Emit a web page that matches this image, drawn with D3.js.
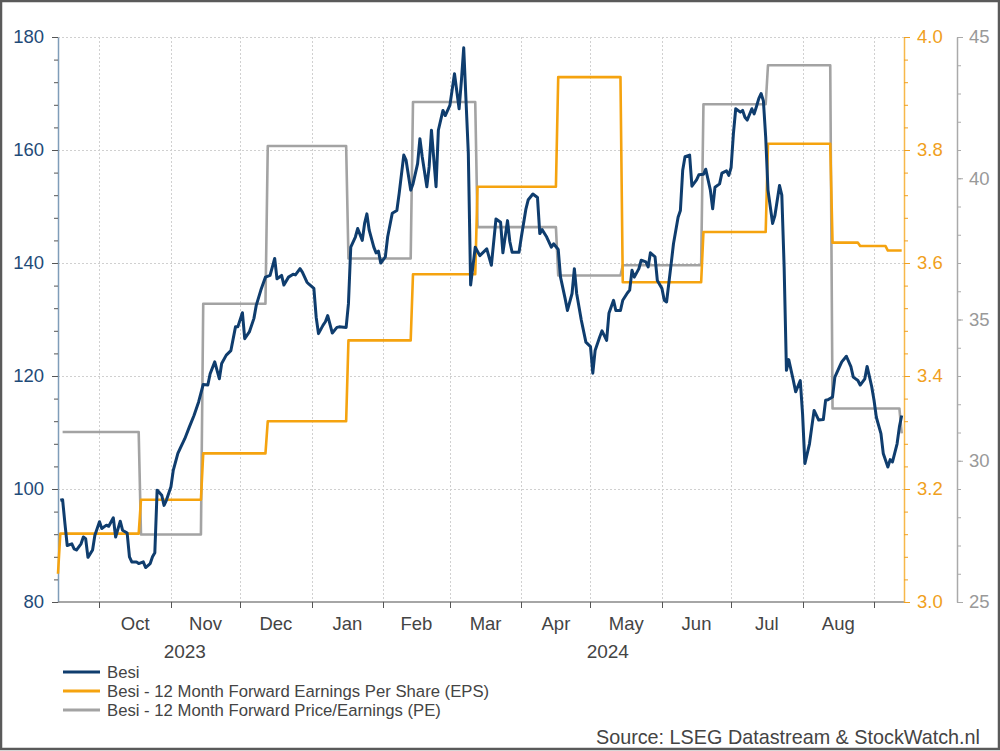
<!DOCTYPE html>
<html>
<head>
<meta charset="utf-8">
<script src="https://cdn.jsdelivr.net/npm/d3@7"></script>
<style>
  body { margin: 0; background: #fff; }
  svg { display: block; font-family: "Liberation Sans", Arial, sans-serif; }
</style>
</head>
<body>
<script>
const besiPrice = [
  ["2023-09-14",98.0],["2023-09-15",98.1],["2023-09-16",93.9],["2023-09-17",90.0],["2023-09-19",90.3],
  ["2023-09-20",89.4],["2023-09-21",89.2],["2023-09-23",90.3],["2023-09-24",91.5],["2023-09-25",91.2],
  ["2023-09-26",87.9],["2023-09-28",89.2],["2023-09-29",91.8],["2023-10-01",94.2],["2023-10-02",93.0],
  ["2023-10-04",93.6],["2023-10-05",93.4],["2023-10-07",94.9],["2023-10-08",91.5],["2023-10-10",94.3],
  ["2023-10-11",92.7],["2023-10-13",92.2],["2023-10-14",88.0],["2023-10-15",87.1],["2023-10-17",87.1],
  ["2023-10-18",86.8],["2023-10-20",87.1],["2023-10-21",86.1],["2023-10-23",86.8],["2023-10-24",88.0],
  ["2023-10-25",88.7],["2023-10-26",99.8],["2023-10-28",98.9],["2023-10-29",97.1],["2023-10-30",98.0],
  ["2023-11-01",100.4],["2023-11-02",103.3],["2023-11-04",106.3],["2023-11-05",107.2],["2023-11-07",108.9],
  ["2023-11-09",111.0],["2023-11-11",113.0],["2023-11-13",115.4],["2023-11-15",118.5],["2023-11-17",118.4],
  ["2023-11-18",120.4],["2023-11-20",122.5],["2023-11-22",119.5],["2023-11-23",122.2],["2023-11-25",123.7],
  ["2023-11-27",124.5],["2023-11-29",128.7],["2023-11-30",128.7],["2023-12-02",131.2],["2023-12-03",126.6],
  ["2023-12-05",127.8],["2023-12-07",130.2],["2023-12-08",132.5],["2023-12-10",135.2],["2023-12-12",137.5],
  ["2023-12-14",137.8],["2023-12-16",140.8],["2023-12-17",137.2],["2023-12-19",137.8],["2023-12-20",136.1],
  ["2023-12-22",137.5],["2023-12-24",138.0],["2023-12-25",137.9],["2023-12-27",139.0],["2023-12-28",138.4],
  ["2023-12-30",136.6],["2023-12-31",136.2],["2024-01-02",135.5],["2024-01-03",130.4],["2024-01-04",127.5],
  ["2024-01-06",129.0],["2024-01-07",129.6],["2024-01-08",130.7],["2024-01-10",127.6],["2024-01-12",128.6],
  ["2024-01-13",128.7],["2024-01-16",128.6],["2024-01-17",132.8],["2024-01-18",142.8],["2024-01-20",144.6],
  ["2024-01-21",146.1],["2024-01-23",144.0],["2024-01-24",147.0],["2024-01-25",148.7],["2024-01-26",145.8],
  ["2024-01-28",142.8],["2024-01-29",141.8],["2024-01-30",142.1],["2024-01-31",140.0],["2024-02-02",141.1],
  ["2024-02-03",144.6],["2024-02-05",148.8],["2024-02-07",149.3],["2024-02-08",152.3],["2024-02-10",159.1],
  ["2024-02-11",158.2],["2024-02-13",152.9],["2024-02-14",154.0],["2024-02-16",157.6],["2024-02-17",162.0],
  ["2024-02-18",158.8],["2024-02-20",153.5],["2024-02-21",157.0],["2024-02-22",163.5],["2024-02-24",153.5],
  ["2024-02-25",163.5],["2024-02-27",167.0],["2024-02-28",166.1],["2024-03-01",167.9],["2024-03-03",173.5],
  ["2024-03-05",167.3],["2024-03-06",172.3],["2024-03-07",178.1],["2024-03-09",159.4],["2024-03-10",136.1],
  ["2024-03-12",142.8],["2024-03-14",141.3],["2024-03-17",142.5],["2024-03-19",139.6],["2024-03-21",147.8],
  ["2024-03-23",147.2],["2024-03-24",141.8],["2024-03-26",147.5],["2024-03-27",143.8],["2024-03-28",141.9],
  ["2024-03-31",141.9],["2024-04-01",144.6],["2024-04-03",149.6],["2024-04-04",151.2],["2024-04-06",152.2],
  ["2024-04-08",151.6],["2024-04-09",145.2],["2024-04-10",145.9],["2024-04-12",144.6],["2024-04-14",142.8],
  ["2024-04-15",143.4],["2024-04-17",142.4],["2024-04-18",137.5],["2024-04-20",133.7],["2024-04-21",131.6],
  ["2024-04-23",134.6],["2024-04-24",139.0],["2024-04-25",134.6],["2024-04-27",129.9],["2024-04-29",126.0],
  ["2024-05-01",125.2],["2024-05-02",120.5],["2024-05-03",124.5],["2024-05-05",126.9],["2024-05-06",128.0],
  ["2024-05-08",126.3],["2024-05-09",131.1],["2024-05-11",133.4],["2024-05-12",131.6],["2024-05-14",131.6],
  ["2024-05-15",133.4],["2024-05-17",134.7],["2024-05-18",135.2],["2024-05-19",138.7],["2024-05-20",137.5],
  ["2024-05-22",139.0],["2024-05-23",140.5],["2024-05-25",140.2],["2024-05-26",139.3],["2024-05-27",141.8],
  ["2024-05-29",141.1],["2024-05-30",136.9],["2024-06-01",135.5],["2024-06-02",133.4],["2024-06-03",133.1],
  ["2024-06-05",139.9],["2024-06-06",143.4],["2024-06-08",148.1],["2024-06-09",149.3],["2024-06-10",156.4],
  ["2024-06-11",158.8],["2024-06-13",159.1],["2024-06-14",153.6],["2024-06-16",154.7],["2024-06-17",155.6],
  ["2024-06-19",155.7],["2024-06-20",156.6],["2024-06-22",152.9],["2024-06-23",149.6],["2024-06-24",153.4],
  ["2024-06-26",154.0],["2024-06-27",155.9],["2024-06-29",156.3],["2024-06-30",155.5],["2024-07-01",156.9],
  ["2024-07-02",162.9],["2024-07-03",167.3],["2024-07-05",166.7],["2024-07-06",167.0],["2024-07-07",165.8],
  ["2024-07-08",165.3],["2024-07-10",167.3],["2024-07-11",166.4],["2024-07-12",167.7],["2024-07-13",169.1],
  ["2024-07-14",170.0],["2024-07-15",168.7],["2024-07-16",162.3],["2024-07-17",152.9],["2024-07-19",147.0],
  ["2024-07-20",148.4],["2024-07-22",153.7],["2024-07-23",152.0],["2024-07-24",139.3],["2024-07-25",121.0],
  ["2024-07-26",122.9],["2024-07-28",119.2],["2024-07-29",117.2],["2024-07-31",119.2],["2024-08-01",113.3],
  ["2024-08-02",104.5],["2024-08-04",108.0],["2024-08-05",111.0],["2024-08-06",113.9],["2024-08-08",112.2],
  ["2024-08-10",112.3],["2024-08-11",115.7],["2024-08-12",115.8],["2024-08-14",116.3],["2024-08-15",119.8],
  ["2024-08-17",121.6],["2024-08-18",122.5],["2024-08-20",123.5],["2024-08-22",121.6],["2024-08-23",119.8],
  ["2024-08-25",119.2],["2024-08-26",118.4],["2024-08-28",119.5],["2024-08-29",121.7],["2024-08-31",118.1],
  ["2024-09-01",115.7],["2024-09-02",112.7],["2024-09-04",109.8],["2024-09-05",106.3],["2024-09-07",103.9],
  ["2024-09-08",105.2],["2024-09-09",104.8],["2024-09-11",108.0],["2024-09-12",111.0],["2024-09-13",113.0]
];

// 12 maands forward EPS: datum waarop de schatting wijzigt + nieuwe waarde
const epsSteps = [
  ["2023-09-13",3.05],["2023-09-14",3.121],["2023-10-19",3.181],["2023-11-15",3.263],
  ["2023-12-13",3.32],["2024-01-17",3.463],["2024-02-14",3.58],["2024-03-13",3.735],
  ["2024-04-17",3.929],["2024-05-15",3.566],["2024-06-19",3.655],["2024-07-17",3.811],
  ["2024-08-14",3.636],["2024-08-26",3.630],["2024-09-07",3.622]
];

// 12 maands forward koers/winst
const peSteps = [
  ["2023-09-15",31.02],["2023-10-19",27.39],["2023-11-15",35.56],["2023-12-13",41.14],
  ["2024-01-17",37.16],["2024-02-14",42.70],["2024-03-13",38.27],["2024-04-17",36.56],
  ["2024-05-15",36.92],["2024-06-19",42.62],["2024-07-17",44.00],["2024-08-14",31.85],
  ["2024-09-13",30.97]
];

const legendLabels = [
  "Besi",
  "Besi - 12 Month Forward Earnings Per Share (EPS)",
  "Besi - 12 Month Forward Price/Earnings (PE)"
];
const sourceText = "Source: LSEG Datastream & StockWatch.nl";

let width = 1000, height = 751;
let m = {left: 58, right: 904, top: 37, bottom: 602};
let blue = "#0f3d6e", orange = "#f5a30f", grey = "#a3a3a3";

let parse = d3.timeParse("%Y-%m-%d");
let xStart = parse("2023-09-13"), xEnd = parse("2024-09-14"), lastDay = parse("2024-09-13");

let x = d3.scaleTime().domain([xStart, xEnd]).range([m.left, m.right]);
let yPrice = d3.scaleLinear().domain([80, 180]).range([m.bottom, m.top]);
let yEps = d3.scaleLinear().domain([3.0, 4.0]).range([m.bottom, m.top]);
let yPe = d3.scaleLinear().domain([25, 45]).range([m.bottom, m.top]);

let svg = d3.select("body").append("svg")
  .attr("width", width)
  .attr("height", height);

// kader rond de grafiek
svg.append("rect")
  .attr("x", 1).attr("y", 1)
  .attr("width", width - 2).attr("height", height - 3)
  .attr("fill", "none").attr("stroke", "#5a5a5a").attr("stroke-width", 2.5);

// stapreeksen omzetten naar punten (1 dag overgang)
function stepPoints(steps, end) {
  let pts = [];
  steps.forEach(function(s, i) {
    let d = parse(s[0]);
    if (i > 0) pts.push([d3.timeDay.offset(d, -1), steps[i - 1][1]]);
    pts.push([d, s[1]]);
  });
  pts.push([end, steps[steps.length - 1][1]]);
  return pts;
}

let monthTicks = d3.timeMonth.range(parse("2023-10-01"), parse("2024-09-02"));

// rasterlijnen
let grid = svg.append("g").attr("stroke", "#d0d0d0").attr("stroke-dasharray", "2,2").attr("stroke-width", 1);
grid.selectAll("line.h")
  .data([100, 120, 140, 160, 180])
  .enter().append("line")
  .attr("x1", m.left).attr("x2", m.right)
  .attr("y1", d => yPrice(d) + 0.5).attr("y2", d => yPrice(d) + 0.5);
grid.selectAll("line.v")
  .data(monthTicks)
  .enter().append("line")
  .attr("y1", m.top).attr("y2", m.bottom)
  .attr("x1", d => Math.round(x(d)) + 0.5).attr("x2", d => Math.round(x(d)) + 0.5);

// linkeras (koers)
let leftMinor = svg.append("g").attr("transform", `translate(${m.left},0)`)
  .call(d3.axisLeft(yPrice).tickValues(d3.range(80, 181, 4)).tickSize(4).tickSizeOuter(0).tickFormat(""));
leftMinor.select(".domain").attr("stroke", "#7f9db9").attr("stroke-width", 1.5);
leftMinor.selectAll(".tick line").attr("stroke", "#555");
let leftMajor = svg.append("g").attr("transform", `translate(${m.left},0)`)
  .call(d3.axisLeft(yPrice).tickValues(d3.range(80, 181, 20)).tickSize(6).tickPadding(8).tickSizeOuter(0));
leftMajor.select(".domain").remove();
leftMajor.selectAll(".tick line").attr("stroke", "#555");
leftMajor.selectAll("text").attr("fill", "#1f4b78").style("font-size", "18.5px").style("font-family", "Liberation Sans, Arial, sans-serif");

// onderas
let bottom = svg.append("g").attr("transform", `translate(0,${m.bottom})`);
bottom.append("line").attr("x1", m.left).attr("x2", m.right).attr("stroke", "#888").attr("stroke-width", 1.5);
bottom.selectAll("line.t").data(monthTicks).enter().append("line")
  .attr("x1", d => Math.round(x(d)) + 0.5).attr("x2", d => Math.round(x(d)) + 0.5)
  .attr("y1", 0).attr("y2", 6).attr("stroke", "#555");
bottom.selectAll("text.month").data(monthTicks.slice(0, -1)).enter().append("text")
  .attr("x", d => (x(d) + x(d3.timeMonth.offset(d, 1))) / 2)
  .attr("y", 28)
  .attr("text-anchor", "middle").attr("fill", "#444").style("font-size", "18.5px")
  .text(d => d3.timeFormat("%b")(d));
let years = [[xStart, parse("2024-01-01"), "2023"], [parse("2024-01-01"), xEnd, "2024"]];
bottom.selectAll("text.year").data(years).enter().append("text")
  .attr("x", d => (x(d[0]) + x(d[1])) / 2)
  .attr("y", 56)
  .attr("text-anchor", "middle").attr("fill", "#444").style("font-size", "19px")
  .text(d => d[2]);

// rechteras EPS
let epsMinor = svg.append("g").attr("transform", `translate(${m.right},0)`)
  .call(d3.axisRight(yEps).tickValues(d3.range(0, 26).map(i => 3 + i * 0.04)).tickSize(4).tickSizeOuter(0).tickFormat(""));
epsMinor.select(".domain").attr("stroke", "#f7b84a").attr("stroke-width", 1.5);
epsMinor.selectAll(".tick line").attr("stroke", "#f0a020");
let epsMajor = svg.append("g").attr("transform", `translate(${m.right},0)`)
  .call(d3.axisRight(yEps).tickValues(d3.range(0, 6).map(i => 3 + i * 0.2)).tickSize(6).tickPadding(7).tickSizeOuter(0).tickFormat(d3.format(".1f")));
epsMajor.select(".domain").remove();
epsMajor.selectAll(".tick line").attr("stroke", "#f0a020");
epsMajor.selectAll("text").attr("fill", "#f0a020").style("font-size", "18.5px").style("font-family", "Liberation Sans, Arial, sans-serif");

// rechteras PE
let peX = 957;
let peMinor = svg.append("g").attr("transform", `translate(${peX},0)`)
  .call(d3.axisRight(yPe).tickValues(d3.range(25, 46, 1)).tickSize(4).tickSizeOuter(0).tickFormat(""));
peMinor.select(".domain").attr("stroke", "#aaa").attr("stroke-width", 1.5);
peMinor.selectAll(".tick line").attr("stroke", "#aaa");
let peMajor = svg.append("g").attr("transform", `translate(${peX},0)`)
  .call(d3.axisRight(yPe).tickValues(d3.range(25, 46, 5)).tickSize(6).tickPadding(6).tickSizeOuter(0));
peMajor.select(".domain").remove();
peMajor.selectAll(".tick line").attr("stroke", "#aaa");
peMajor.selectAll("text").attr("fill", "#999").style("font-size", "18.5px").style("font-family", "Liberation Sans, Arial, sans-serif");

// lijnen
let pePath = d3.line().x(d => x(d[0])).y(d => yPe(d[1]));
let epsPath = d3.line().x(d => x(d[0])).y(d => yEps(d[1]));
let pricePath = d3.line().x(d => x(parse(d[0]))).y(d => yPrice(d[1]));

svg.append("path")
  .datum(stepPoints(peSteps, lastDay))
  .attr("d", pePath)
  .attr("fill", "none").attr("stroke", grey).attr("stroke-width", 2.6).attr("stroke-linejoin", "round");

svg.append("path")
  .datum(stepPoints(epsSteps, lastDay))
  .attr("d", epsPath)
  .attr("fill", "none").attr("stroke", orange).attr("stroke-width", 2.6).attr("stroke-linejoin", "round");

svg.append("path")
  .datum(besiPrice)
  .attr("d", pricePath)
  .attr("fill", "none").attr("stroke", blue).attr("stroke-width", 3).attr("stroke-linejoin", "round");

// legenda
let legend = svg.append("g").attr("transform", "translate(63,672)");
let legendColors = [blue, orange, grey];
legendLabels.forEach(function(label, i) {
  let g = legend.append("g").attr("transform", `translate(0,${i * 19})`);
  g.append("line").attr("x1", 0).attr("x2", 37).attr("stroke", legendColors[i]).attr("stroke-width", 3);
  g.append("text").attr("x", 44).attr("y", 6).attr("fill", "#444").style("font-size", "16.7px").text(label);
});

// bron
svg.append("text")
  .attr("x", 980).attr("y", 744)
  .attr("text-anchor", "end").attr("fill", "#444").style("font-size", "19.8px")
  .text(sourceText);
</script>
</body>
</html>
